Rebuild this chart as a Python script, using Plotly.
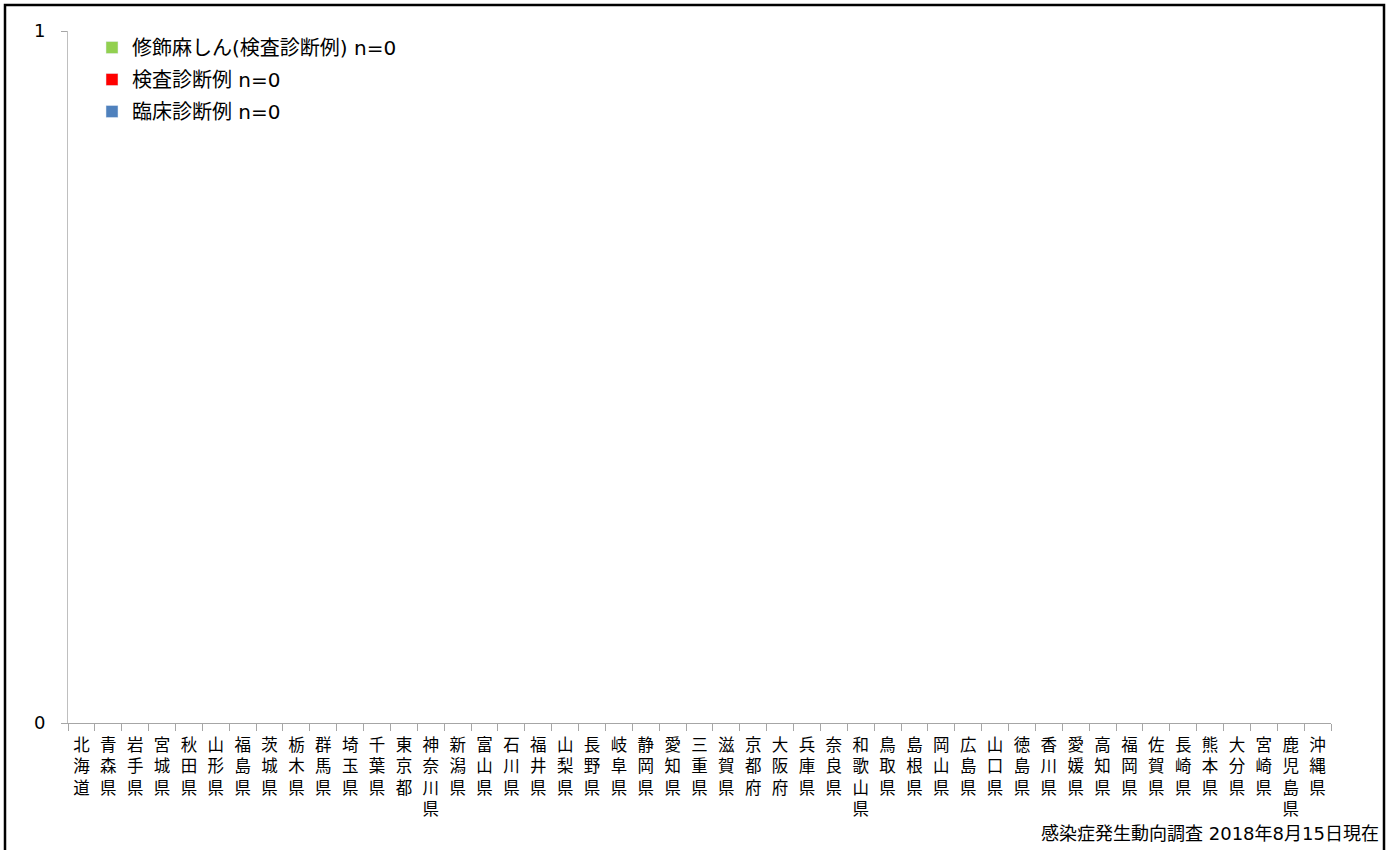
import plotly.graph_objects as go

prefectures = [
    "北海道", "青森県", "岩手県", "宮城県", "秋田県", "山形県", "福島県", "茨城県",
    "栃木県", "群馬県", "埼玉県", "千葉県", "東京都", "神奈川県", "新潟県", "富山県",
    "石川県", "福井県", "山梨県", "長野県", "岐阜県", "静岡県", "愛知県", "三重県",
    "滋賀県", "京都府", "大阪府", "兵庫県", "奈良県", "和歌山県", "鳥取県", "島根県",
    "岡山県", "広島県", "山口県", "徳島県", "香川県", "愛媛県", "高知県", "福岡県",
    "佐賀県", "長崎県", "熊本県", "大分県", "宮崎県", "鹿児島県", "沖縄県",
]
clinical = [0] * 47       # 臨床診断例
lab = [0] * 47            # 検査診断例
modified = [0] * 47       # 修飾麻しん(検査診断例)

series_names = ["臨床診断例 n=0", "検査診断例 n=0", "修飾麻しん(検査診断例) n=0"]
series_values = [clinical, lab, modified]
series_colors = ["#4F81BD", "#FF0000", "#92D050"]
legend_ranks = [3, 2, 1]

y_ticks = [0, 1]
source_text = "感染症発生動向調査 2018年8月15日現在"

FONT = "DejaVu Sans, Noto Sans CJK JP, sans-serif"

fig = go.Figure()
for i, (name, vals, col, rk) in enumerate(zip(series_names, series_values, series_colors, legend_ranks)):
    fig.add_trace(go.Bar(x=prefectures, y=vals, name=name, marker_color=col,
                         legendgroup=f"g{i}", legendrank=rk))

tick_text = ["<br>".join(list(p)) for p in prefectures]

L, R, T, B = 68, 61, 31, 127
W, H = 1392, 850
pw, ph = W - L - R, H - T - B

fig.update_layout(
    width=W, height=H,
    barmode="stack",
    margin=dict(l=L, r=R, t=T, b=B),
    paper_bgcolor="white", plot_bgcolor="white",
    font=dict(family=FONT, size=16, color="black"),
    showlegend=True,
    legend=dict(
        x=(92 - L) / pw, y=1 + 3 / ph, xanchor="left", yanchor="top",
        traceorder="grouped", tracegroupgap=3,
        bgcolor="rgba(0,0,0,0)",
        font=dict(family=FONT, size=20, color="black"),
        itemwidth=30,
    ),
    xaxis=dict(
        type="category",
        tickmode="array", tickvals=prefectures, ticktext=tick_text,
        tickson="boundaries", ticks="outside", ticklen=7, tickcolor="#A6A6A6",
        showline=True, linecolor="#A6A6A6", linewidth=1,
        showgrid=False, tickangle=0,
        tickfont=dict(family="Noto Sans CJK JP", size=16.5, color="black"),
        ticklabelstandoff=7,
    ),
    yaxis=dict(
        range=[0, 1], tickmode="array", tickvals=y_ticks, ticktext=[str(v) for v in y_ticks],
        ticks="outside", ticklen=6, tickcolor="#A6A6A6",
        showline=True, linecolor="#BFBFBF", linewidth=1,
        showgrid=True, gridcolor="#A6A6A6", gridwidth=1,
        zeroline=False,
        tickfont=dict(family=FONT, size=18, color="black"),
        ticklabelstandoff=12,
    ),
    annotations=[dict(
        text=source_text, xref="paper", yref="paper",
        x=(1381 - L) / pw, y=(H - B - 833) / ph,
        xanchor="right", yanchor="middle", showarrow=False,
        font=dict(family=FONT, size=18, color="black"),
    )],
    shapes=[dict(
        type="rect", xref="paper", yref="paper",
        x0=(5 - L) / pw, x1=(1384 - L) / pw,
        y0=(H - B - 900) / ph, y1=1 + (T - 5) / ph,
        line=dict(color="black", width=2.5), fillcolor="rgba(0,0,0,0)",
        layer="above",
    )],
)

fig.write_html("out.html", config={"displayModeBar": False},
               post_script="document.body.style.margin='0';")
